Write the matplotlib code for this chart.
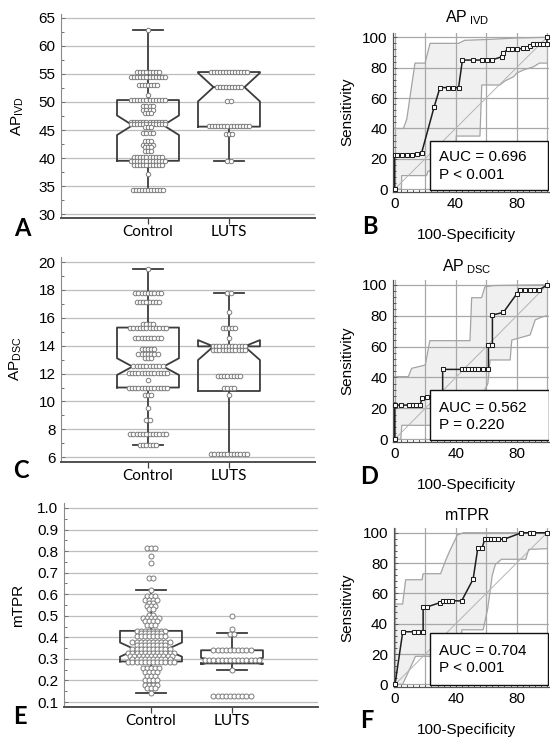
import matplotlib

matplotlib.use("Agg")
import matplotlib.pyplot as plt
import numpy as np
from matplotlib.patches import Rectangle
from matplotlib.ticker import MultipleLocator

W, H = 550, 738

plt.rcParams["font.family"] = ["Liberation Sans", "DejaVu Sans"]
plt.rcParams["mathtext.fontset"] = "custom"
plt.rcParams["mathtext.rm"] = "Liberation Sans"
plt.rcParams["mathtext.it"] = "Liberation Sans:italic"
plt.rcParams["mathtext.bf"] = "Liberation Sans:bold"

GROUPS = ["Control", "LUTS"]

# dot rows: a value and how many subjects sit on it
IVD_CONTROL_VALUES = [62.8, 55.4, 54.4, 53.0, 51.2, 50.35, 49.2, 48.6, 48.1, 46.5, 46.1, 45.6,
                      44.4, 43.1, 42.4, 41.9, 41.3, 40.2, 39.5, 38.75, 37.2, 34.3]
IVD_CONTROL_COUNTS = [1, 8, 12, 7, 1, 12, 4, 4, 3, 12, 12, 3, 4, 3, 4, 3, 3, 10, 12, 10, 1, 11]
IVD_LUTS_VALUES = [55.4, 52.6, 50.15, 45.7, 44.3, 39.4]
IVD_LUTS_COUNTS = [13, 9, 2, 14, 3, 2]

DSC_CONTROL_VALUES = [19.5, 17.75, 17.1, 15.55, 15.3, 14.55, 13.75, 13.4, 13.1, 12.55, 12.05,
                      11.55, 11.0, 10.45, 9.55, 8.7, 7.65, 6.85]
DSC_CONTROL_COUNTS = [1, 9, 8, 4, 12, 9, 5, 7, 3, 10, 13, 1, 13, 3, 1, 2, 12, 6]
DSC_LUTS_VALUES = [17.75, 16.45, 15.3, 14.55, 13.95, 13.7, 11.85, 10.95, 10.45, 6.25]
DSC_LUTS_COUNTS = [2, 1, 5, 1, 11, 11, 8, 4, 1, 12]

TPR_CONTROL_VALUES = [0.812, 0.775, 0.745, 0.675, 0.62, 0.59, 0.575, 0.56, 0.545, 0.53, 0.505,
                      0.49, 0.475, 0.455, 0.43, 0.42, 0.405, 0.38, 0.365, 0.345, 0.328, 0.312,
                      0.298, 0.285, 0.258, 0.238, 0.22, 0.2, 0.18, 0.165, 0.14]
TPR_CONTROL_COUNTS = [3, 1, 1, 2, 1, 3, 4, 2, 3, 2, 2, 5, 4, 3, 8, 6, 8, 10, 8, 10, 12, 11,
                      10, 12, 5, 4, 3, 4, 4, 3, 1]
TPR_LUTS_VALUES = [0.5, 0.44, 0.415, 0.34, 0.295, 0.25, 0.13]
TPR_LUTS_COUNTS = [1, 1, 2, 10, 14, 1, 10]

# box summaries: whislo, q1, cilo, median, cihi, q3, whishi
IVD_CONTROL_BOX = [34.3, 39.5, 44.1, 45.85, 47.6, 50.35, 62.8]
IVD_LUTS_BOX = [39.5, 45.6, 50.1, 52.65, 55.2, 55.35, 55.35]
DSC_CONTROL_BOX = [6.85, 11.0, 11.9, 12.5, 13.1, 15.3, 19.5]
DSC_LUTS_BOX = [6.25, 10.75, 12.97, 13.95, 14.4, 13.95, 17.75]
TPR_CONTROL_BOX = [0.14, 0.288, 0.31, 0.343, 0.376, 0.43, 0.62]
TPR_LUTS_BOX = [0.25, 0.279, 0.276, 0.29, 0.305, 0.34, 0.42]

# ROC curves (100-specificity, sensitivity) and 95% CI bands
IVD_ROC_X = [0, 0, 1.4, 4.7, 8, 11.2, 14.5, 17.8, 26, 29.8, 35.2, 38.6, 42, 44.5, 51.7, 57.2,
             60.5, 63.7, 70.3, 71.3, 74.6, 76.9, 80.1, 84.5, 86.7, 88.9, 91, 93.2, 95.4, 97.6,
             99.8, 100]
IVD_ROC_Y = [0, 22.8, 22.8, 22.8, 22.8, 22.8, 23.5, 24.1, 54.3, 66.9, 66.9, 66.9, 66.9, 85, 85,
             85, 85, 85, 87.2, 89.9, 92, 92, 92, 92.8, 92.8, 94.3, 95.5, 95.5, 95.5, 95.5, 95.5,
             100]
IVD_UP_X = [0, 5.8, 8, 13.4, 20, 23.3, 42, 46, 60, 80, 100]
IVD_UP_Y = [40, 40, 46, 83, 83, 96, 96, 98, 98.5, 99.5, 100]
IVD_LO_X = [0, 4.5, 4.7, 21, 22, 39.7, 40.5, 56, 57.2, 69, 72.5, 78, 80, 84.5, 91, 95, 100]
IVD_LO_Y = [0, 0, 9, 9, 12, 12, 35, 35, 68.6, 68.6, 71.3, 74, 76.3, 78.5, 80.5, 83, 83]

DSC_ROC_X = [0, 0, 0.5, 4.4, 9.4, 12, 14.2, 16.4, 18.1, 21, 31.4, 31.4, 43.9, 46.1, 48.3, 50.4,
             52.6, 54.8, 58.1, 61.4, 61.4, 64, 64, 71.2, 80, 82.3, 85.5, 88.8, 91, 94.3, 100]
DSC_ROC_Y = [0, 22.1, 22.1, 22.1, 22.1, 22.1, 22.1, 22.1, 26.4, 27.5, 27.5, 45.2, 45.2, 45.2,
             45.2, 45.2, 45.2, 45.2, 45.2, 45.2, 61, 61, 80.4, 82.1, 94.2, 96.4, 96.4, 96.4,
             96.4, 96.4, 100]
DSC_UP_X = [0, 8.9, 11.1, 20, 23, 49.3, 50.4, 56.9, 59.1, 65, 100]
DSC_UP_Y = [40.5, 40.5, 45.9, 48, 63.8, 63.8, 91.6, 91.6, 98.7, 99.5, 100]
DSC_LO_X = [0, 4, 4.6, 30, 32, 55, 58, 61, 62.5, 75.6, 76.7, 88.7, 92, 96, 100]
DSC_LO_Y = [0, 0, 9, 9, 12, 12, 30, 36, 51.3, 51.3, 64.2, 67.5, 77.2, 79, 80]

TPR_ROC_X = [0, 5.1, 12.5, 15.4, 18.5, 18.5, 20.8, 29.3, 31.5, 33.5, 35.5, 37.5, 43.8, 51.4,
             54.5, 57.3, 59.1, 61, 63, 65, 67.5, 72, 83.2, 88.8, 91, 100]
TPR_ROC_Y = [0, 34.7, 34.7, 34.7, 34.7, 50.8, 51, 53.8, 55.2, 55.2, 55.2, 55.2, 55, 69.4, 90, 90,
             95.8, 95.8, 95.8, 95.8, 95.8, 95.8, 100, 100, 100, 100]
TPR_UP_X = [0, 5, 7, 17.8, 18.5, 30, 33, 36, 41, 45, 100]
TPR_UP_Y = [53, 53, 69, 69, 73, 73, 81, 88, 98.5, 100, 100]
TPR_LO_X = [0, 5, 13.5, 43, 44, 58, 61, 64, 66, 70, 86, 88, 100]
TPR_LO_Y = [0, 0, 18.5, 18.5, 36, 36, 50, 72, 79, 82.5, 82.5, 89, 89.5]

CHANCE = [0, 100]
AUC_TEXT = ["AUC = 0.696", "AUC = 0.562", "AUC = 0.704"]
P_TEXT = ["P < 0.001", "P = 0.220", "P < 0.001"]

BOX_COLOR = "#3c3c3c"
GRID_COLOR = "#bdbdbd"


def px_axes(fig, left, top, width, height):
    return fig.add_axes([left / W, 1 - (top + height) / H, width / W, height / H])


def px_text(fig, x, y, s, **kw):
    kw.setdefault("ha", "center")
    kw.setdefault("va", "center")
    fig.text(x / W, 1 - y / H, s, **kw)


def box_stats(vals):
    keys = ["whislo", "q1", "cilo", "med", "cihi", "q3", "whishi"]
    d = dict(zip(keys, vals))
    d["fliers"] = []
    return d


def dot_rows(ax, pos, values, counts, step, size):
    for v, n in zip(values, counts):
        xs = pos + (np.arange(n) - (n - 1) / 2) * step
        ax.plot(xs, np.full(n, v), "o", ms=size, mfc="white", mec="#7c7c7c",
                mew=0.7, zorder=4)


def box_panel(ax, rows, boxes, ylim, major, minor, fmt, step, size):
    ax.set_xlim(-0.074, 3.062)
    ax.set_ylim(*ylim)
    line = dict(color=BOX_COLOR, lw=1.3)
    ax.bxp([box_stats(b) for b in boxes], positions=[1, 2], widths=0.765,
           shownotches=True, showfliers=False, capwidths=0.37, boxprops=line,
           whiskerprops=line, capprops=line, medianprops=line, manage_ticks=False)
    for pos, (values, counts) in zip([1, 2], rows):
        dot_rows(ax, pos, values, counts, step, size)

    ax.yaxis.set_major_locator(MultipleLocator(major))
    ax.yaxis.set_minor_locator(MultipleLocator(minor))
    ax.yaxis.set_major_formatter(fmt)
    ax.set_xticks([1, 2], GROUPS)
    for lab in ax.get_xticklabels():
        lab.set_fontfamily("Lato")
        lab.set_fontsize(11)
    ax.tick_params(axis="x", direction="out", length=4, width=0.9, color="#404040", pad=1)
    ax.tick_params(axis="y", which="both", direction="in", color="#707070", width=0.7,
                   labelsize=11, pad=4)
    ax.tick_params(axis="y", which="major", length=3)
    ax.tick_params(axis="y", which="minor", length=2)
    ax.yaxis.grid(True, color=GRID_COLOR, lw=0.9)
    ax.set_axisbelow(True)
    for side in ("top", "right"):
        ax.spines[side].set_visible(False)
    ax.spines["left"].set_color("#8a8a8a")
    ax.spines["left"].set_linewidth(0.8)
    ax.spines["bottom"].set_color("#505050")
    ax.spines["bottom"].set_linewidth(1.4)


def roc_panel(ax, roc, up, lo, auc, p, box_top, auc_y, p_y):
    ax.set_xlim(-1, 101)
    ax.set_ylim(-1.6, 103)
    ux, uy = np.asarray(up[0]), np.asarray(up[1])
    lx, ly = np.asarray(lo[0]), np.asarray(lo[1])
    ax.fill(np.r_[ux, lx[::-1]], np.r_[uy, ly[::-1]], color="#f0f0f0", lw=0, zorder=1)
    ax.plot(ux, uy, color="#a4a4a4", lw=0.9, zorder=2)
    ax.plot(lx, ly, color="#a4a4a4", lw=0.9, zorder=2)
    ax.plot(CHANCE, CHANCE, color="#b4b4b4", lw=0.7, zorder=2)
    ax.plot(roc[0], roc[1], "-s", color="#1e1e1e", lw=1.1, ms=3.2, mfc="white",
            mec="#1e1e1e", mew=0.75, zorder=3, clip_on=False)

    ax.add_patch(Rectangle((0.238, 0.01), 0.76, box_top - 0.01, transform=ax.transAxes,
                           facecolor="white", edgecolor="#111111", lw=1.0, zorder=5))
    ax.text(0.296, auc_y, auc, transform=ax.transAxes, fontsize=11, va="center", zorder=6)
    ax.text(0.296, p_y, p, transform=ax.transAxes, fontsize=11, va="center", zorder=6)

    ax.set_xticks([0, 20, 40, 60, 80, 100], ["0", "", "40", "", "80", ""])
    ax.set_yticks([0, 20, 40, 60, 80, 100])
    ax.xaxis.set_minor_locator(MultipleLocator(4))
    ax.yaxis.set_minor_locator(MultipleLocator(4))
    ax.tick_params(which="both", direction="in", color="#555555", width=0.7, labelsize=11)
    ax.tick_params(which="major", length=3, pad=4)
    ax.tick_params(which="minor", length=2)
    ax.grid(True, color="#a8a8a8", lw=0.9)
    ax.set_axisbelow("line")
    for side in ("top", "right"):
        ax.spines[side].set_visible(False)
    for side in ("left", "bottom"):
        ax.spines[side].set_color("#555555")
        ax.spines[side].set_linewidth(0.9)


fig = plt.figure(figsize=(W / 100, H / 100), dpi=100)
fig.patch.set_facecolor("white")

ax_a = px_axes(fig, 61, 14, 254, 204)
box_panel(ax_a, [(IVD_CONTROL_VALUES, IVD_CONTROL_COUNTS), (IVD_LUTS_VALUES, IVD_LUTS_COUNTS)],
          [IVD_CONTROL_BOX, IVD_LUTS_BOX], (29.29, 65.71), 5, 2.5, "{x:.0f}", 0.038, 3.2)
ax_c = px_axes(fig, 61, 257, 254, 204.7)
box_panel(ax_c, [(DSC_CONTROL_VALUES, DSC_CONTROL_COUNTS), (DSC_LUTS_VALUES, DSC_LUTS_COUNTS)],
          [DSC_CONTROL_BOX, DSC_LUTS_BOX], (5.68, 20.36), 2, 1, "{x:.0f}", 0.040, 3.3)
ax_e = px_axes(fig, 64, 503, 254, 204.3)
box_panel(ax_e, [(TPR_CONTROL_VALUES, TPR_CONTROL_COUNTS), (TPR_LUTS_VALUES, TPR_LUTS_COUNTS)],
          [TPR_CONTROL_BOX, TPR_LUTS_BOX], (0.0755, 1.023), 0.1, 0.05, "{x:.1f}", 0.051, 3.6)

ax_b = px_axes(fig, 393, 32.7, 155.6, 159)
roc_panel(ax_b, (IVD_ROC_X, IVD_ROC_Y), (IVD_UP_X, IVD_UP_Y), (IVD_LO_X, IVD_LO_Y),
          AUC_TEXT[0], P_TEXT[0], 0.319, 0.22, 0.105)
ax_d = px_axes(fig, 393.2, 280.1, 155.7, 161.6)
roc_panel(ax_d, (DSC_ROC_X, DSC_ROC_Y), (DSC_UP_X, DSC_UP_Y), (DSC_LO_X, DSC_LO_Y),
          AUC_TEXT[1], P_TEXT[1], 0.32, 0.207, 0.103)
ax_f = px_axes(fig, 393.5, 528.2, 155, 158.6)
roc_panel(ax_f, (TPR_ROC_X, TPR_ROC_Y), (TPR_UP_X, TPR_UP_Y), (TPR_LO_X, TPR_LO_Y),
          AUC_TEXT[2], P_TEXT[2], 0.34, 0.225, 0.12)

# axis titles and labels
px_text(fig, 18, 116, r"AP$_{\mathrm{IVD}}$", rotation=90, fontsize=11)
px_text(fig, 16, 359, r"AP$_{\mathrm{DSC}}$", rotation=90, fontsize=11)
px_text(fig, 18, 605, "mTPR", rotation=90, fontsize=11)

for top, bottom, title, ty in [(32.7, 191.7, r"AP$_{\;\mathrm{IVD}}$", 18),
                               (280.1, 441.7, r"AP$_{\;\mathrm{DSC}}$", 266.5),
                               (528.2, 686.8, "mTPR", 515)]:
    px_text(fig, 347, (top + bottom) / 2, "Sensitivity", rotation=90, fontsize=11)
    px_text(fig, 467, ty, title, fontsize=11.5)
    px_text(fig, 466, bottom + 43, "100-Specificity", fontsize=11)

for letter, x, y in [("A", 22, 228), ("C", 21, 470), ("E", 20, 716),
                     ("B", 370, 227), ("D", 369, 477), ("F", 367, 720)]:
    px_text(fig, x, y, letter, fontsize=17, fontweight="bold", family="Lato")

fig.savefig("out.png", dpi=100, facecolor="white")
